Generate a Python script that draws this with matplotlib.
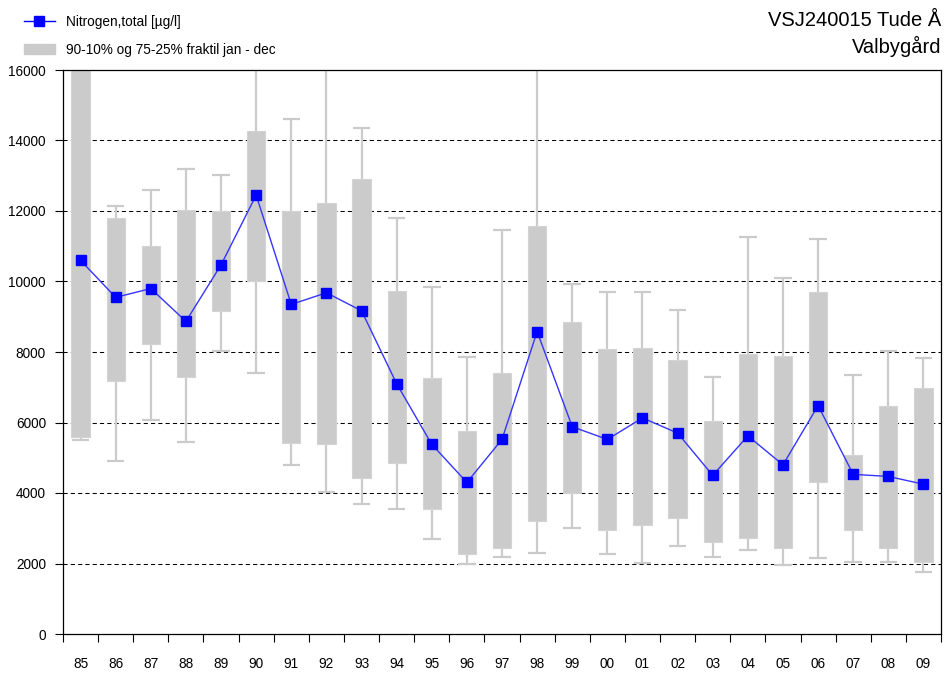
import matplotlib
matplotlib.use("Agg")
import matplotlib.pyplot as plt
from matplotlib.lines import Line2D
from matplotlib.patches import Patch
import numpy as np

plt.rcParams['font.family'] = ['Liberation Sans', 'DejaVu Sans']

# Data (µg/l)
years = ['85', '86', '87', '88', '89', '90', '91', '92', '93', '94', '95', '96', '97',
         '98', '99', '00', '01', '02', '03', '04', '05', '06', '07', '08', '09']
median = [10600, 9550, 9800, 8870, 10470, 12450, 9350, 9680, 9170, 7100, 5380, 4300, 5520,
          8580, 5880, 5520, 6130, 5700, 4500, 5620, 4800, 6480, 4530, 4470, 4250]
p90 = [18000, 12150, 12600, 13200, 13020, 18000, 14610, 18000, 14350, 11800, 9850, 7850, 11450,
       18000, 9930, 9700, 9700, 9190, 7300, 11250, 10100, 11200, 7350, 8040, 7830]
p75 = [16500, 11800, 11000, 12020, 12000, 14270, 12000, 12220, 12900, 9740, 7270, 5760, 7400,
       11580, 8850, 8090, 8110, 7780, 6050, 7950, 7900, 9700, 5080, 6470, 6980]
p25 = [5600, 7170, 8220, 7290, 9170, 10000, 5410, 5400, 4420, 4850, 3550, 2260, 2440,
       3200, 4000, 2950, 3100, 3300, 2600, 2720, 2430, 4310, 2950, 2440, 2050]
p10 = [5500, 4900, 6080, 5460, 8030, 7400, 4790, 4040, 3690, 3550, 2700, 1990, 2190,
       2310, 3010, 2260, 2020, 2500, 2190, 2390, 1970, 2150, 2050, 2050, 1760]

x = np.arange(len(years))
grey = '#cbcbcb'

fig = plt.figure(figsize=(9.45, 6.74), dpi=100)
ax = fig.add_axes([63 / 945, 40 / 674, 878 / 945, 564 / 674])

# whiskers and caps
ax.vlines(x, p10, p90, color=grey, lw=1.6, zorder=1)
ax.hlines(p10, x - 0.25, x + 0.25, color=grey, lw=1.6, zorder=1)
ax.hlines(p90, x - 0.25, x + 0.25, color=grey, lw=1.6, zorder=1)
# boxes
ax.bar(x, np.array(p75) - np.array(p25), bottom=p25, width=0.52, color=grey,
       edgecolor='#d4d4d4', lw=0.8, zorder=2)
# median line
ax.plot(x, median, color='#3535ff', lw=1.0, zorder=3)
ax.plot(x, median, ls='none', marker='s', ms=7.8, color='#0000ff', mec='#0000ff', zorder=4)

ax.set_xlim(-0.5, len(years) - 0.5)
ax.set_ylim(0, 16000)
ax.set_yticks(np.arange(0, 16001, 2000))
ax.set_yticklabels([str(v) for v in range(0, 16001, 2000)])
for v in range(2000, 16000, 2000):
    ax.axhline(v, color='black', lw=0.75, ls=(0, (4, 3)), zorder=0.5)

ax.set_xticks(np.arange(-0.5, len(years)), labels=[''] * (len(years) + 1))
ax.set_xticks(x, labels=years, minor=True)
ax.tick_params(axis='x', which='major', length=6, width=0.8, direction='out')
ax.tick_params(axis='x', which='minor', length=0, pad=16.5, labelsize=9.8)
ax.tick_params(axis='y', length=6, width=0.8, pad=6.3, labelsize=9.8)
for s in ax.spines.values():
    s.set_linewidth(0.9)

# title
fig.text(941 / 945, 1 - 20 / 674, 'VSJ240015 Tude Å', ha='right', va='center', fontsize=14.5)
fig.text(941 / 945, 1 - 46 / 674, 'Valbygård', ha='right', va='center', fontsize=14.5)

# legend
handles = [Line2D([], [], color='#0000ff', lw=1, marker='s', ms=7.8),
           Patch(facecolor=grey, edgecolor=grey)]
fig.legend(handles, ['Nitrogen,total [µg/l]', '90-10% og 75-25% fraktil jan - dec'],
           loc='upper left', bbox_to_anchor=(0.012, 0.996), frameon=False, fontsize=9.8,
           handlelength=2.3, handleheight=0.8, handletextpad=0.8, labelspacing=1.0)

fig.savefig('out.png', dpi=100)
